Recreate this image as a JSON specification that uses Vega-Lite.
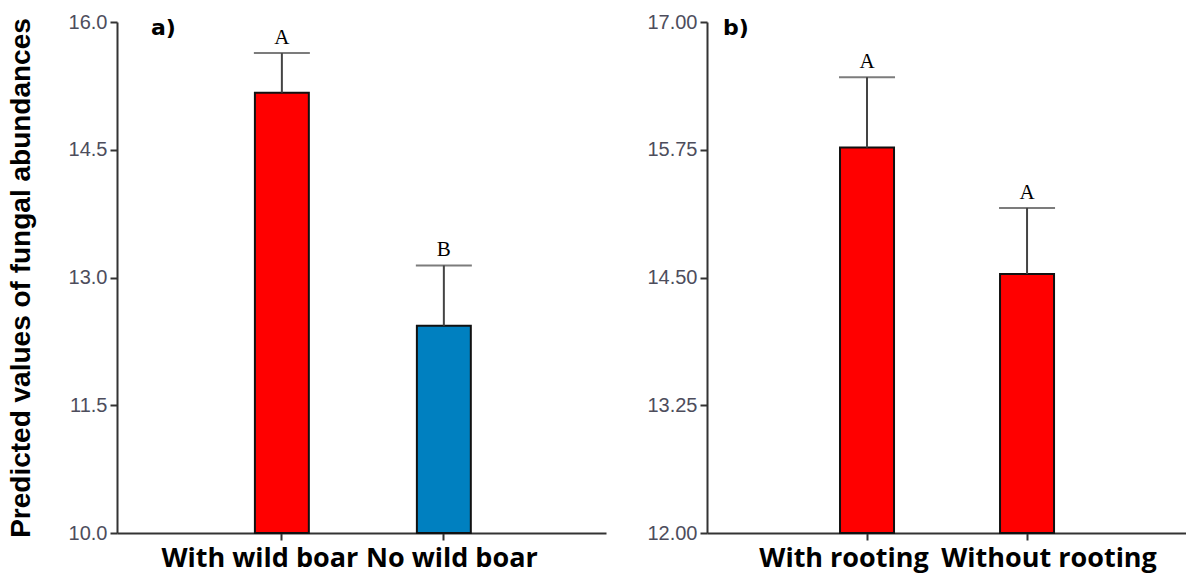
{
  "$schema": "https://vega.github.io/schema/vega-lite/v6.json",
  "background": "white",
  "padding": {"left": 7, "top": 12, "right": 0, "bottom": 30},
  "spacing": 40,
  "config": {
    "view": {"stroke": null},
    "axis": {"grid": false, "domainColor": "#333333", "domainWidth": 2, "tickColor": "#333333", "tickWidth": 2},
    "title": {"font": "DejaVu Sans", "fontSize": 22, "fontWeight": "bold", "color": "black"}
  },
  "hconcat": [
    {
      "width": 489,
      "height": 511,
      "title": {"text": "a)", "anchor": "start", "frame": "group", "dx": 34, "offset": 0, "dy": 45, "baseline": "alphabetic"},
      "data": {"values": [
        {"treatment": "With wild boar", "mean": 15.17, "upper": 15.635, "letter": "A"},
        {"treatment": "No wild boar", "mean": 12.433, "upper": 13.142, "letter": "B"}
      ]},
      "encoding": {
        "x": {"field": "treatment", "type": "nominal", "sort": null,
          "scale": {"paddingInner": 0.667, "paddingOuter": 0.843, "align": 0.505},
          "axis": {"title": null, "labelAngle": 0, "labelFont": "Open Sans", "labelFontSize": 27, "labelFontWeight": "bold", "labelColor": "black",
            "tickSize": 7, "labelPadding": 5, "labelOverlap": false, "labelBound": false, "labelFlush": false, "labelLimit": 0,
            "labelOffset": {"condition": {"test": "datum.value === 'No wild boar'", "value": 8}, "value": -22}}}
      },
      "layer": [
        {"mark": {"type": "bar", "stroke": "#111111", "strokeWidth": 2},
          "encoding": {
            "y": {"field": "mean", "type": "quantitative",
              "scale": {"domain": [10, 16], "zero": false, "nice": false},
              "axis": {"values": [10, 11.5, 13, 14.5, 16], "format": ".1f", "title": "Predicted values of fungal abundances",
                "titleFont": "Liberation Sans", "titleFontSize": 28, "titleFontWeight": "bold", "titleColor": "black", "titlePadding": 33,
                "labelFont": "Liberation Sans", "labelFontSize": 20, "labelColor": "#4d4d5c", "tickSize": 7, "labelPadding": 3}},
            "y2": {"datum": 10},
            "color": {"field": "treatment", "type": "nominal", "legend": null,
              "scale": {"domain": ["With wild boar", "No wild boar"], "range": ["#ff0000", "#0080c0"]}}
          }},
        {"mark": {"type": "rule", "color": "#444444", "strokeWidth": 2},
          "encoding": {"y": {"field": "mean", "type": "quantitative"}, "y2": {"field": "upper"}}},
        {"mark": {"type": "tick", "color": "#444444", "thickness": 2, "size": 56},
          "encoding": {"y": {"field": "upper", "type": "quantitative"}}},
        {"mark": {"type": "text", "font": "Liberation Serif", "fontSize": 21, "baseline": "alphabetic", "dy": -9, "color": "black"},
          "encoding": {"y": {"field": "upper", "type": "quantitative"}, "text": {"field": "letter"}}}
      ]
    },
    {
      "width": 479,
      "height": 511,
      "title": {"text": "b)", "anchor": "start", "frame": "group", "dx": 16, "offset": 0, "dy": 45, "baseline": "alphabetic"},
      "data": {"values": [
        {"treatment": "With rooting", "mean": 15.771, "upper": 16.46, "letter": "A"},
        {"treatment": "Without rooting", "mean": 14.535, "upper": 15.181, "letter": "A"}
      ]},
      "encoding": {
        "x": {"field": "treatment", "type": "nominal", "sort": null,
          "scale": {"paddingInner": 0.6625, "paddingOuter": 0.828, "align": 0.502},
          "axis": {"title": null, "labelAngle": 0, "labelFont": "Open Sans", "labelFontSize": 27, "labelFontWeight": "bold", "labelColor": "black",
            "tickSize": 7, "labelPadding": 5, "labelOverlap": false, "labelBound": false, "labelFlush": false, "labelLimit": 0,
            "labelOffset": {"condition": {"test": "datum.value === 'Without rooting'", "value": 22}, "value": -23}}}
      },
      "layer": [
        {"mark": {"type": "bar", "stroke": "#111111", "strokeWidth": 2, "color": "#ff0000"},
          "encoding": {
            "y": {"field": "mean", "type": "quantitative",
              "scale": {"domain": [12, 17], "zero": false, "nice": false},
              "axis": {"values": [12, 13.25, 14.5, 15.75, 17], "format": ".2f", "title": null,
                "labelFont": "Liberation Sans", "labelFontSize": 20, "labelColor": "#4d4d5c", "tickSize": 7, "labelPadding": 3}},
            "y2": {"datum": 12}
          }},
        {"mark": {"type": "rule", "color": "#444444", "strokeWidth": 2},
          "encoding": {"y": {"field": "mean", "type": "quantitative"}, "y2": {"field": "upper"}}},
        {"mark": {"type": "tick", "color": "#444444", "thickness": 2, "size": 56},
          "encoding": {"y": {"field": "upper", "type": "quantitative"}}},
        {"mark": {"type": "text", "font": "Liberation Serif", "fontSize": 21, "baseline": "alphabetic", "dy": -9, "color": "black"},
          "encoding": {"y": {"field": "upper", "type": "quantitative"}, "text": {"field": "letter"}}}
      ]
    }
  ]
}
